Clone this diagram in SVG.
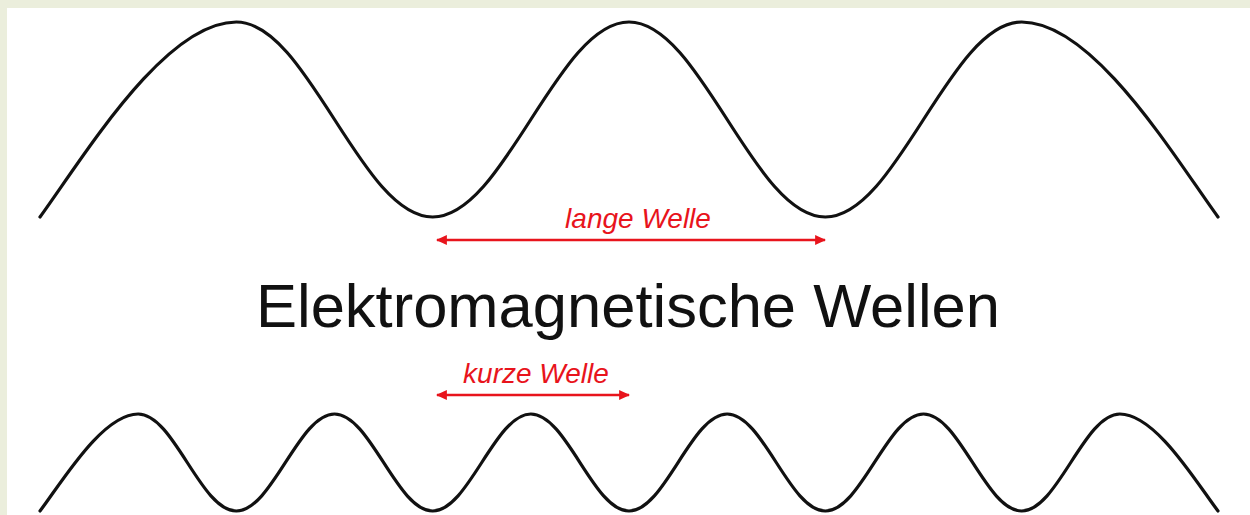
<svg xmlns="http://www.w3.org/2000/svg" width="1250" height="515" viewBox="0 0 1250 515">
  <style>
    .wave { fill: none; stroke: #111; stroke-width: 3.2; stroke-linecap: round; stroke-linejoin: round; }
    .arrow { stroke: #e8141c; stroke-width: 2.5; fill: none; }
    .lbl { font-family: "Liberation Sans", Arial, sans-serif; font-style: italic; font-size: 28px; fill: #e8141c; text-anchor: middle; }
    .title { font-family: "Liberation Sans", Arial, sans-serif; font-size: 61.5px; fill: #111; text-anchor: middle; }
  </style>
  <defs>
    <marker id="ah" viewBox="0 0 10 10" refX="9" refY="5" markerWidth="11" markerHeight="11" markerUnits="userSpaceOnUse" orient="auto-start-reverse">
      <path d="M0,0.5 L10,5 L0,9.5 Z" fill="#e8141c"/>
    </marker>
  </defs>
  <rect x="0" y="0" width="1250" height="515" fill="#ebeedc"/>
  <rect x="7" y="8" width="1243" height="507" fill="#ffffff"/>

  <g id="long-wave">
    <path class="wave" d="M40,217 C85,155 165,22 236.33,22 C307.83,22 361.17,217 432.67,217 C504.17,217 557.5,22 629,22 C700.5,22 753.83,217 825.33,217 C896.83,217 950.17,22 1021.67,22 C1093.17,22 1173,155 1218,217"/>
  </g>

  <g id="short-wave">
    <path class="wave" d="M40,511 C62,482 102.5,414 138.17,414 C173.9,414 200.6,511 236.33,511 C272.1,511 298.8,414 334.5,414 C370.2,414 396.9,511 432.67,511 C468.4,511 495.1,414 530.83,414 C566.6,414 593.3,511 629,511 C664.7,511 691.4,414 727.17,414 C762.9,414 789.6,511 825.33,511 C861.1,511 887.8,414 923.5,414 C959.2,414 985.9,511 1021.67,511 C1057.4,511 1084.1,414 1119.83,414 C1155.5,414 1196,482 1218,511"/>
  </g>

  <g id="connectors">
    <line class="arrow" x1="437" y1="240" x2="825" y2="240" marker-start="url(#ah)" marker-end="url(#ah)"/>
    <line class="arrow" x1="437" y1="395" x2="629" y2="395" marker-start="url(#ah)" marker-end="url(#ah)"/>
  </g>

  <g id="label-long">
    <text class="lbl" x="638" y="228">lange Welle</text>
  </g>
  <g id="label-short">
    <text class="lbl" x="536" y="383">kurze Welle</text>
  </g>
  <g id="title">
    <text class="title" x="628" y="327">Elektromagnetische Wellen</text>
  </g>
</svg>
